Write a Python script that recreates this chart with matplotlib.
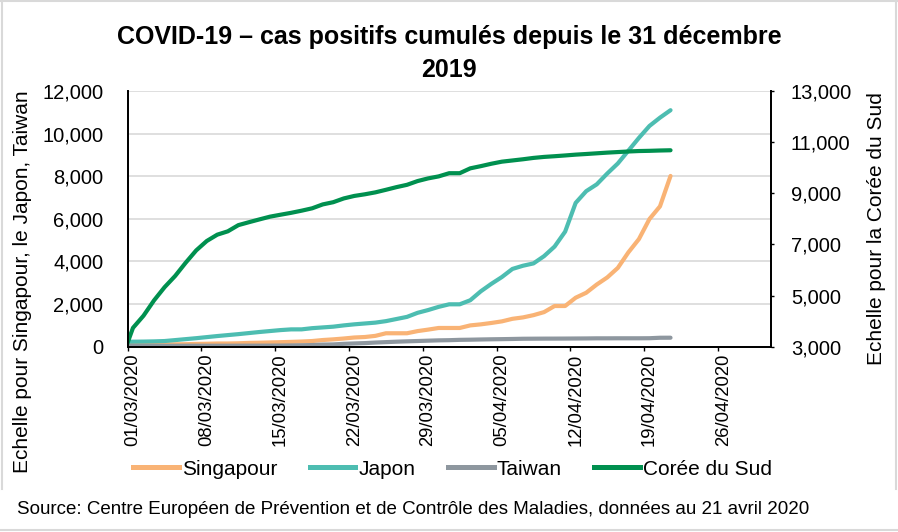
"""
COVID-19 - cumulative positive cases since 31/12/2019.
Singapore, Japan, Taiwan on the left axis; South Korea on the right axis.
"""

import numpy as np
import pandas as pd
import matplotlib
matplotlib.use("Agg")
import matplotlib.pyplot as plt
from matplotlib.lines import Line2D

plt.rcParams["font.family"] = ["Liberation Sans", "DejaVu Sans"]

# ── data (29/02/2020 .. 21/04/2020) ─────────────────────────────────────────

START = pd.Timestamp("2020-03-01")
dates = pd.date_range("2020-02-29", "2020-04-21", freq="D")

singapour = [98, 102, 106, 108, 110, 112, 117, 130, 138, 150, 150, 160, 178, 187,
             200, 212, 226, 243, 266, 313, 345, 385, 432, 455, 509, 631, 631, 631,
             732, 802, 879, 879, 879, 1000, 1049, 1114, 1189, 1309, 1375, 1481,
             1623, 1910, 1910, 2299, 2532, 2918, 3252, 3699, 4427, 5050, 5992,
             6588, 8014]

japon = [230, 235, 240, 250, 266, 310, 355, 400, 450, 500, 545, 590, 640, 690,
         735, 780, 813, 814, 870, 905, 940, 1000, 1050, 1090, 1130, 1200, 1300,
         1400, 1590, 1720, 1870, 1990, 1990, 2180, 2600, 2950, 3270, 3650, 3800,
         3910, 4250, 4700, 5400, 6750, 7300, 7620, 8130, 8600, 9200, 9800,
         10360, 10750, 11100]

taiwan = [39, 39, 40, 41, 42, 42, 44, 45, 45, 45, 45, 47, 48, 49, 50, 53, 59, 67,
          77, 100, 108, 135, 153, 169, 195, 215, 235, 252, 267, 283, 298, 306,
          322, 329, 339, 348, 355, 363, 373, 376, 379, 380, 382, 385, 388, 393,
          393, 395, 395, 395, 398, 420, 422]

coree = [2600, 3736, 4212, 4812, 5328, 5766, 6284, 6767, 7134, 7382, 7513, 7755,
         7869, 7979, 8086, 8162, 8236, 8320, 8413, 8565, 8652, 8799, 8897, 8961,
         9037, 9137, 9241, 9332, 9478, 9583, 9661, 9786, 9786, 9976, 10062,
         10156, 10237, 10284, 10331, 10384, 10423, 10450, 10480, 10512, 10537,
         10564, 10591, 10613, 10635, 10653, 10661, 10674, 10683]

tick_dates = pd.date_range(START, periods=9, freq="7D")
left_ticks = list(range(0, 12001, 2000))
right_ticks = list(range(3000, 13001, 2000))

COLORS = {"Singapour": "#F9B375", "Japon": "#4DBDB1",
          "Taiwan": "#8E979F", "Corée du Sud": "#00904F"}

# ── figure ──────────────────────────────────────────────────────────────────

fig = plt.figure(figsize=(8.98, 5.32), dpi=100)
ax = fig.add_axes([0.1422, 0.3483, 0.7160, 0.4806])
ax2 = ax.twinx()

# points sit in the middle of each day's slot (Excel "between tick marks")
x = (dates - START).days.values + 0.5

lw = 3.0
ax.plot(x, singapour, color=COLORS["Singapour"], lw=lw, solid_capstyle="round")
ax.plot(x, japon, color=COLORS["Japon"], lw=lw, solid_capstyle="round")
ax.plot(x, taiwan, color=COLORS["Taiwan"], lw=lw, solid_capstyle="round")
ax2.plot(x, coree, color=COLORS["Corée du Sud"], lw=lw, solid_capstyle="round")

ax.set_xlim(0, 61)
ax.set_ylim(0, 12000)
ax2.set_ylim(3000, 13000)

# x axis: tick marks on week boundaries, labels centred in the day slot
tick_pos = (tick_dates - START).days.values
ax.set_xticks(tick_pos)
ax.set_xticklabels([""] * len(tick_pos))
ax.set_xticks(tick_pos + 0.5, minor=True)
ax.set_xticklabels(tick_dates.strftime("%d/%m/%Y"), minor=True,
                   rotation=90, fontsize=13.3)
ax.tick_params(axis="x", which="major", direction="out", length=3, width=1,
               color="black")
ax.tick_params(axis="x", which="minor", length=0, pad=5)

ax.set_yticks(left_ticks)
ax.set_yticklabels([f"{v:,}" for v in left_ticks], fontsize=14.5)
ax.tick_params(axis="y", length=0, pad=17.5)

ax2.set_yticks(right_ticks)
ax2.set_yticklabels([f"{v:,}" for v in right_ticks], fontsize=14.5)
ax2.tick_params(axis="y", direction="out", length=2.5, width=1, pad=12,
                color="black")

ax.grid(axis="y", color="#d9d9d9", lw=1.2)
for a in (ax, ax2):
    a.spines["top"].set_visible(False)
    for side in ("left", "right", "bottom"):
        a.spines[side].set_color("black")
        a.spines[side].set_linewidth(1.3)

# titles / axis labels
fig.text(0.5, 0.9164, "COVID-19 – cas positifs cumulés depuis le 31 décembre",
         ha="center", va="baseline", fontsize=18, fontweight="bold")
fig.text(0.5, 0.8553, "2019", ha="center", va="baseline",
         fontsize=18, fontweight="bold")

fig.text(0.0256, 0.47, "Echelle pour Singapour, le Japon, Taiwan",
         rotation=90, ha="center", va="center", fontsize=15)
fig.text(0.9766, 0.5695, "Echelle pour la Corée du Sud",
         rotation=90, ha="center", va="center", fontsize=15)

# legend
handles = [Line2D([], [], color=c, lw=3.6) for c in COLORS.values()]
fig.legend(handles, list(COLORS.keys()), loc="center",
           bbox_to_anchor=(0.504, 0.1184), ncol=4, frameon=False,
           fontsize=15, handlelength=2.2, handletextpad=0.15,
           columnspacing=1.55, borderpad=0)

fig.text(0.0189, 0.0432,
         "Source: Centre Européen de Prévention et de Contrôle des Maladies, "
         "données au 21 avril 2020",
         ha="left", va="center", fontsize=13.5)

# light grey frame
frame = "#d9d9d9"
chart_bottom = 1 - 489 / 532
for line in ([0.0017, 0.0017], [chart_bottom, 1.0]), \
            ([0.9983, 0.9983], [chart_bottom, 1.0]), \
            ([0.0, 1.0], [0.998, 0.998]), \
            ([0.0, 1.0], [0.0038, 0.0038]):
    fig.add_artist(Line2D(line[0], line[1], transform=fig.transFigure,
                          color=frame, lw=1.5))

fig.savefig("out.png", dpi=100)
